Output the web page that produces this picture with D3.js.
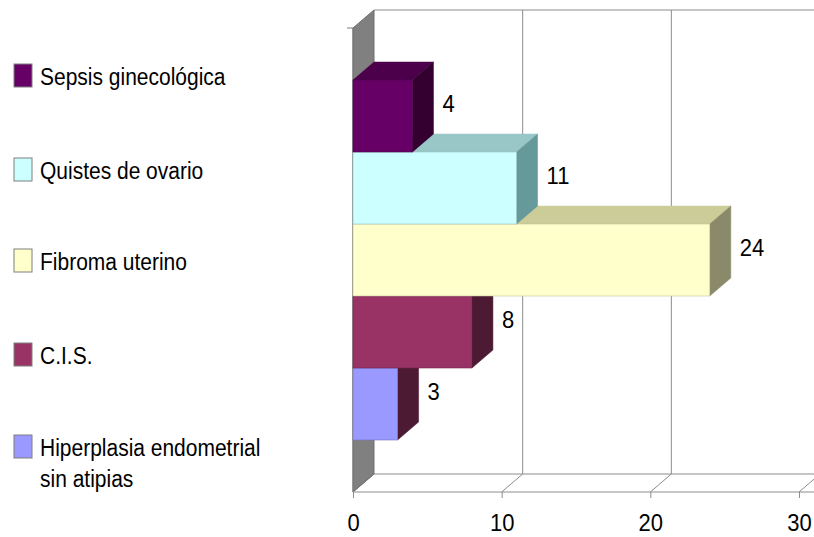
<!DOCTYPE html>
<html>
<head>
<meta charset="utf-8">
<script src="https://cdn.jsdelivr.net/npm/d3@7"></script>
<style>
  body { margin: 0; background: #fff; }
  svg { font-family: "Liberation Sans", Arial, sans-serif; }
</style>
</head>
<body>
<svg width="814" height="537"></svg>
<script>
// series, top to bottom as in the legend
const categories = ["Sepsis ginecológica", "Quistes de ovario", "Fibroma uterino", "C.I.S.", "Hiperplasia endometrial sin atipias"];
const values = [4, 11, 24, 8, 3];
const frontColors = ["#660066", "#ccffff", "#ffffcc", "#993366", "#9999ff"];
const topColors = ["#4c004c", "#99c6c6", "#cccc99", "#73264d", "#7373bf"];
const sideColors = ["#33002f", "#669999", "#8a8a6a", "#4d1a33", "#4d1a33"];
const xTicks = [0, 10, 20, 30];

const svg = d3.select("svg");

// depth offset of the 3d box
const dx = 21, dy = -18;
const plotTop = 28, plotBottom = 492;

const xScale = d3.scaleLinear().domain([0, 30]).range([353, 799]);
const yScale = d3.scaleBand().domain(categories).range([80, 440]);

const line = (x1, y1, x2, y2, c) => svg.append("line")
  .attr("x1", x1).attr("y1", y1).attr("x2", x2).attr("y2", y2)
  .attr("stroke", c || "#8c8c8c").attr("stroke-width", 1);

// back wall
line(xScale(0) + dx, plotTop + dy, 814, plotTop + dy);
xTicks.forEach(t => {
  if (t > 0) line(xScale(t) + dx, plotTop + dy, xScale(t) + dx, plotBottom + dy);
  // floor diagonals
  line(xScale(t), plotBottom, xScale(t) + dx, plotBottom + dy);
});
line(xScale(0) + dx, plotBottom + dy, 814, plotBottom + dy);

// left side wall
svg.append("path")
  .attr("d", `M${xScale(0)},${plotTop} L${xScale(0) + dx},${plotTop + dy} L${xScale(0) + dx},${plotBottom + dy} L${xScale(0)},${plotBottom} Z`)
  .attr("fill", "#808080")
  .attr("stroke", "#6e6e6e");

// y axis front edge with its two ticks
line(xScale(0), plotTop, xScale(0), plotBottom, "#7a7a7a");
line(xScale(0) - 6, plotTop, xScale(0), plotTop, "#7a7a7a");

// bars, drawn bottom to top so upper fronts hide lower tops
const idx = d3.range(categories.length).reverse();
const bars = svg.append("g");
idx.forEach(i => {
  const c = categories[i];
  const x0 = xScale(0), x1 = xScale(values[i]);
  const y0 = yScale(c), y1 = yScale(c) + yScale.bandwidth();
  const g = bars.append("g");
  g.append("path")
    .attr("d", `M${x0},${y0} L${x0 + dx},${y0 + dy} L${x1 + dx},${y0 + dy} L${x1},${y0} Z`)
    .attr("fill", topColors[i]).attr("stroke", topColors[i]).attr("stroke-width", 0.5);
  g.append("path")
    .attr("d", `M${x1},${y0} L${x1 + dx},${y0 + dy} L${x1 + dx},${y1 + dy} L${x1},${y1} Z`)
    .attr("fill", sideColors[i]).attr("stroke", sideColors[i]).attr("stroke-width", 0.5);
  g.append("rect")
    .attr("x", x0).attr("y", y0)
    .attr("width", x1 - x0).attr("height", y1 - y0)
    .attr("fill", frontColors[i])
    .attr("stroke", d3.color(frontColors[i]).darker(0.8)).attr("stroke-width", 0.6);
});

// floor front edge and x axis
const xAxis = d3.axisBottom(xScale).tickValues(xTicks).tickSize(6).tickSizeOuter(0);
const ax = svg.append("g").attr("transform", `translate(0,${plotBottom})`).call(xAxis);
ax.select(".domain").attr("stroke", "#8c8c8c").attr("d", `M${xScale(0)},0H814`);
ax.selectAll(".tick line").attr("stroke", "#8c8c8c");
ax.selectAll(".tick text")
  .attr("y", 35.5).attr("dy", 0)
  .attr("transform", "scale(1,1.1)")
  .attr("fill", "#000")
  .style("font-size", "22px")
  .style("font-family", "'Liberation Sans', Arial, sans-serif");

// value labels
const labels = svg.append("g");
categories.forEach((c, i) => {
  labels.append("text")
    .attr("transform", `translate(${xScale(values[i]) + dx + 9},${yScale(c) + yScale.bandwidth() / 2 - 4}) scale(1,1.12)`)
    .style("font-size", "22px")
    .attr("fill", "#000")
    .text(values[i]);
});

// legend
const legendY = [76, 170, 261, 355, 447];
const legend = svg.append("g");
categories.forEach((c, i) => {
  legend.append("rect")
    .attr("x", 14).attr("y", legendY[i] - 12)
    .attr("width", 18).attr("height", 23)
    .attr("fill", frontColors[i])
    .attr("stroke", "#7f7f7f").attr("stroke-width", 1);
  const words = c === categories[4] ? ["Hiperplasia endometrial", "sin atipias"] : [c];
  words.forEach((w, k) => {
    legend.append("text")
      .attr("transform", `translate(40,${legendY[i] + 9 + k * 31}) scale(1,1.15)`)
      .style("font-size", "21px")
      .attr("fill", "#000")
      .text(w);
  });
});
</script>
</body>
</html>
